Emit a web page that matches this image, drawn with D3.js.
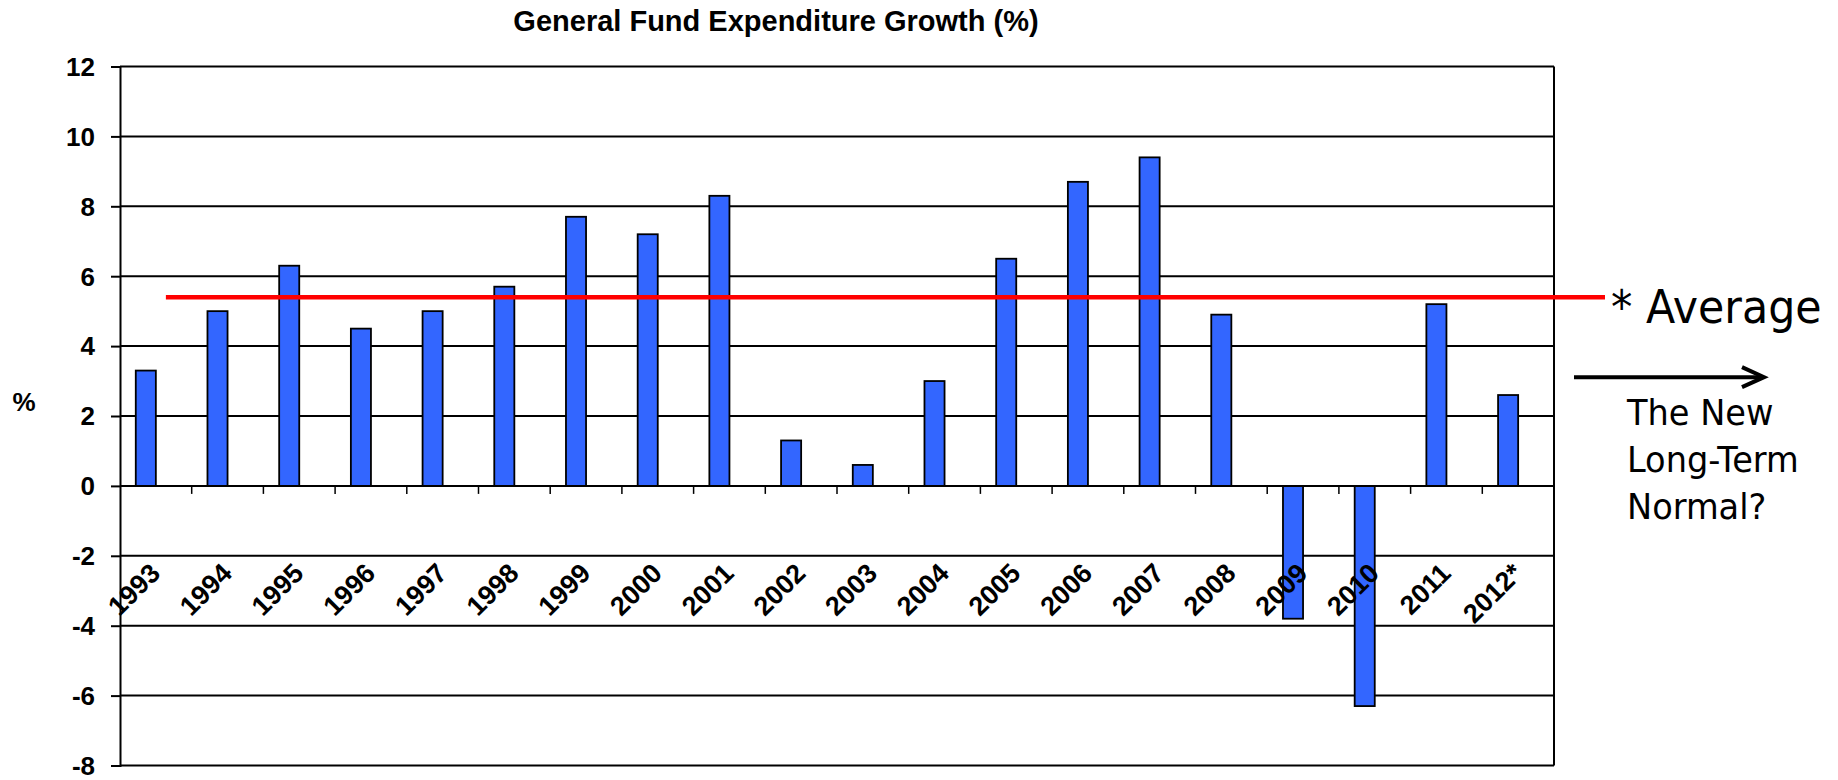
<!DOCTYPE html>
<html>
<head>
<meta charset="utf-8">
<script src="https://cdn.jsdelivr.net/npm/d3@7"></script>
<style>
  body { margin: 0; background: #fff; }
  svg { display: block; }
</style>
</head>
<body>
<div id="chart"></div>
<script>
// Chart values
const years = ['1993', '1994', '1995', '1996', '1997', '1998', '1999', '2000', '2001', '2002',
  '2003', '2004', '2005', '2006', '2007', '2008', '2009', '2010', '2011', '2012*'];
const growth = [3.3, 5.0, 6.3, 4.5, 5.0, 5.7, 7.7, 7.2, 8.3, 1.3,
  0.6, 3.0, 6.5, 8.7, 9.4, 4.9, -3.8, -6.3, 5.2, 2.6];
const yTicks = [-8, -6, -4, -2, 0, 2, 4, 6, 8, 10, 12];
const averageGrowth = 5.4;
const noteLines = ['The New', 'Long-Term', 'Normal?'];

const svgWidth = 1838;
const svgHeight = 780;

const margin = { top: 66.5, right: 284, bottom: 14.5, left: 120 };
const width = svgWidth - margin.left - margin.right;
const height = svgHeight - margin.top - margin.bottom;

const svg = d3.select('#chart')
  .append('svg')
  .attr('width', svgWidth)
  .attr('height', svgHeight);

const chartGroup = svg.append('g')
  .attr('transform', `translate(${margin.left}, ${margin.top})`);

// Scales
const xScale = d3.scaleBand()
  .domain(years)
  .range([0, width]);

const yScale = d3.scaleLinear()
  .domain([-8, 12])
  .range([height, 0]);

const band = xScale.bandwidth();
const barWidth = band * 0.28;

// Gridlines
chartGroup.append('g')
  .selectAll('line')
  .data(yTicks)
  .enter()
  .append('line')
  .attr('x1', 0)
  .attr('x2', width)
  .attr('y1', d => yScale(d))
  .attr('y2', d => yScale(d))
  .attr('stroke', '#000')
  .attr('stroke-width', 2);

// Plot border (right side)
chartGroup.append('line')
  .attr('x1', width).attr('x2', width)
  .attr('y1', 0).attr('y2', height)
  .attr('stroke', '#000')
  .attr('stroke-width', 2);

// Left axis
const leftAxis = d3.axisLeft(yScale)
  .tickValues(yTicks)
  .tickSize(9)
  .tickPadding(16)
  .tickFormat(d => String(d));

const yAxis = chartGroup.append('g').call(leftAxis);
yAxis.select('.domain').attr('stroke-width', 2);
yAxis.selectAll('.tick line').attr('stroke-width', 2);
yAxis.selectAll('text')
  .attr('font-family', '"Liberation Sans", Arial, sans-serif')
  .attr('font-weight', 'bold')
  .attr('font-size', '26px')
  .attr('dy', '0.34em')
  .attr('fill', '#000');

// Bars (first of two clustered slots, second slot empty)
chartGroup.selectAll('.bar')
  .data(growth)
  .enter()
  .append('rect')
  .attr('class', 'bar')
  .attr('x', (d, i) => xScale(years[i]) + band / 2 - barWidth)
  .attr('y', d => yScale(Math.max(0, d)))
  .attr('width', barWidth)
  .attr('height', d => Math.abs(yScale(d) - yScale(0)))
  .attr('fill', '#3366FF')
  .attr('stroke', '#000')
  .attr('stroke-width', 1.8);

// Zero axis with ticks between categories
chartGroup.append('line')
  .attr('x1', 0).attr('x2', width)
  .attr('y1', yScale(0)).attr('y2', yScale(0))
  .attr('stroke', '#000')
  .attr('stroke-width', 2);

chartGroup.append('g')
  .selectAll('line')
  .data(years.slice(1))
  .enter()
  .append('line')
  .attr('x1', d => xScale(d))
  .attr('x2', d => xScale(d))
  .attr('y1', yScale(0))
  .attr('y2', yScale(0) + 8)
  .attr('stroke', '#000')
  .attr('stroke-width', 1.5);

// Category labels, rotated
chartGroup.append('g')
  .selectAll('text')
  .data(years)
  .enter()
  .append('text')
  .attr('transform', d => `translate(${xScale(d) + band / 2 + 6}, ${yScale(-2) + 19}) rotate(-45)`)
  .attr('text-anchor', 'end')
  .attr('font-family', '"Liberation Sans", Arial, sans-serif')
  .attr('font-weight', 'bold')
  .attr('font-size', '27px')
  .attr('fill', '#000')
  .text(d => d);

// Average line
const avgY = yScale(averageGrowth);
chartGroup.append('line')
  .attr('x1', xScale(years[0]) + band / 2 + barWidth / 2)
  .attr('x2', width + 51)
  .attr('y1', avgY)
  .attr('y2', avgY)
  .attr('stroke', '#FF0000')
  .attr('stroke-width', 4.5);

// Annotation text
const noteFont = '"DejaVu Sans", Verdana, sans-serif';

chartGroup.append('text')
  .attr('transform', `translate(${width + 57}, ${avgY + 26}) scale(0.93, 1)`)
  .attr('font-family', noteFont)
  .attr('font-size', '46px')
  .attr('fill', '#000')
  .text('* Average');

// Arrow
const arrowY = avgY + 80;
const arrowX0 = width + 20;
const arrowX1 = width + 210;
chartGroup.append('line')
  .attr('x1', arrowX0).attr('x2', arrowX1 - 2)
  .attr('y1', arrowY).attr('y2', arrowY)
  .attr('stroke', '#000')
  .attr('stroke-width', 4);

chartGroup.append('path')
  .attr('d', `M${arrowX1 - 22},${arrowY - 10} L${arrowX1},${arrowY} L${arrowX1 - 22},${arrowY + 10}`)
  .attr('fill', 'none')
  .attr('stroke', '#000')
  .attr('stroke-width', 4)
  .attr('stroke-linejoin', 'miter');

const noteGroup = chartGroup.append('g')
  .attr('transform', `translate(${width + 73}, ${avgY + 128}) scale(0.96, 1)`);

noteGroup.selectAll('text')
  .data(noteLines)
  .enter()
  .append('text')
  .attr('x', 0)
  .attr('y', (d, i) => i * 47)
  .attr('font-family', noteFont)
  .attr('font-size', '35px')
  .attr('fill', '#000')
  .text(d => d);

// Title
svg.append('text')
  .attr('x', 776)
  .attr('y', 31)
  .attr('text-anchor', 'middle')
  .attr('font-family', '"Liberation Sans", Arial, sans-serif')
  .attr('font-weight', 'bold')
  .attr('font-size', '29px')
  .attr('fill', '#000')
  .text('General Fund Expenditure Growth (%)');

// Y axis title
svg.append('text')
  .attr('x', 24)
  .attr('y', 411)
  .attr('text-anchor', 'middle')
  .attr('font-family', '"Liberation Sans", Arial, sans-serif')
  .attr('font-weight', 'bold')
  .attr('font-size', '26px')
  .attr('fill', '#000')
  .text('%');
</script>
</body>
</html>
